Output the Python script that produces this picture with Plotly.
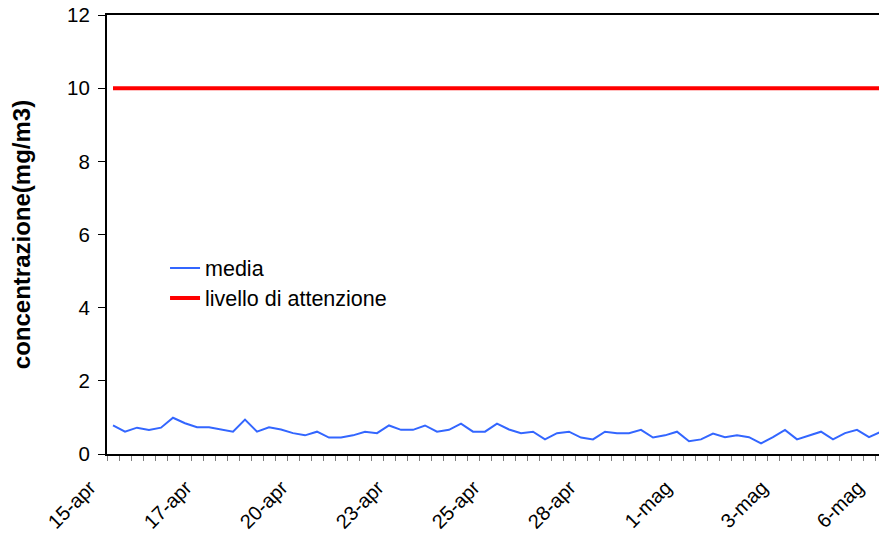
import plotly.graph_objects as go

# 8-hour averages, 15-apr .. 6-mag (3 values per day)
media = [0.78, 0.61, 0.72, 0.66, 0.72, 0.99, 0.84, 0.73, 0.73, 0.67,
         0.61, 0.94, 0.61, 0.73, 0.67, 0.57, 0.51, 0.61, 0.45, 0.45,
         0.51, 0.61, 0.57, 0.78, 0.66, 0.66, 0.78, 0.61, 0.66, 0.83,
         0.61, 0.61, 0.83, 0.67, 0.57, 0.61, 0.40, 0.57, 0.61, 0.45,
         0.40, 0.61, 0.57, 0.57, 0.66, 0.45, 0.51, 0.61, 0.35, 0.40,
         0.56, 0.46, 0.51, 0.46, 0.29, 0.46, 0.66, 0.40, 0.51, 0.61,
         0.40, 0.57, 0.66, 0.46, 0.61, 0.70]
livello_attenzione = [10] * len(media)
tick_labels = ["15-apr", "17-apr", "20-apr", "23-apr", "25-apr",
               "28-apr", "1-mag", "3-mag", "6-mag"]
label_step = 8  # one label every 8 samples

x = list(range(len(media)))
tick_positions = [i * label_step for i in range(len(tick_labels))]

FONT = "Liberation Sans, Arial, sans-serif"

fig = go.Figure()
fig.add_trace(go.Scatter(x=x, y=media, mode="lines", name="media",
                         line=dict(color="#3366FF", width=2),
                         showlegend=True, legend="legend"))
fig.add_trace(go.Scatter(x=x, y=livello_attenzione, mode="lines",
                         name="livello di attenzione",
                         line=dict(color="#FF0000", width=4),
                         showlegend=True, legend="legend2"))

leg_common = dict(font=dict(family=FONT, size=21.5, color="black"),
                  bgcolor="rgba(0,0,0,0)", xanchor="left", yanchor="middle")
fig.update_layout(
    width=879, height=531,
    margin=dict(l=99, r=0, t=7, b=85, autoexpand=False),
    paper_bgcolor="white", plot_bgcolor="white",
    font=dict(family=FONT, size=21, color="black"),
    legend=dict(x=0.0744, y=(446 - 260) / 439, **leg_common),
    legend2=dict(x=0.0744, y=(446 - 290) / 439, **leg_common),
    xaxis=dict(
        range=[-0.5, 64.5], automargin=False,
        tickmode="array", tickvals=tick_positions, ticktext=tick_labels,
        tickangle=-45, ticks="", showgrid=False, zeroline=False,
        ticklabelstandoff=12, ticklabelshift=-23, ticklabeloverflow="allow",
        showline=True, linecolor="black", linewidth=2, mirror=True,
        tickfont=dict(family=FONT, size=20, color="black"),
        minor=dict(tick0=-0.5, dtick=1, ticks="outside", ticklen=5,
                   tickcolor="#808080", tickwidth=1, showgrid=False),
    ),
    yaxis=dict(
        range=[0, 12], tickmode="linear", tick0=0, dtick=2, automargin=False,
        ticks="outside", ticklen=7, tickcolor="black", tickwidth=1,
        showgrid=False, zeroline=False, ticklabelstandoff=4,
        ticklabeloverflow="allow",
        showline=True, linecolor="black", linewidth=2,
        tickfont=dict(family=FONT, size=20.5, color="black"),
        title=dict(text="<b>concentrazione(mg/m3)</b>",
                   font=dict(family=FONT, size=24, color="black"),
                   standoff=34),
    ),
)

fig.write_html("out.html")
